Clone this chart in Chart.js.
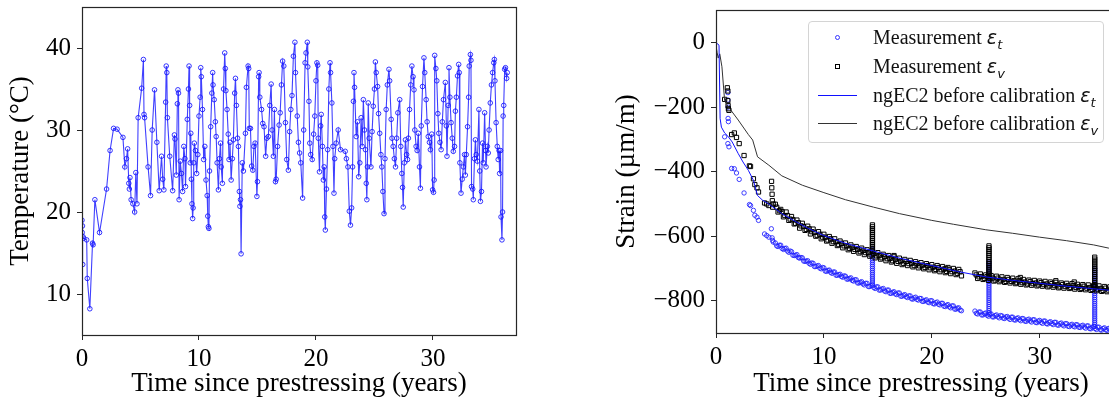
<!DOCTYPE html>
<html>
<head>
<meta charset="utf-8">
<script src="https://cdn.jsdelivr.net/npm/chart.js@4.4.1/dist/chart.umd.min.js"></script>
<style>
  html, body { margin: 0; padding: 0; background: #fff; overflow: hidden; width: 1109px; height: 406px; }
  #left { position: absolute; left: 0; top: 0; }
  #right { position: absolute; left: 560px; top: 0; }
  #legend {
    position: absolute; left: 808px; top: 21px; width: 294px; height: 120px;
    border: 1px solid #d4d4d4; border-radius: 4px; background: rgba(255,255,255,0.85);
    font-family: "Liberation Serif", serif; font-size: 20px; color: #111;
  }
  .row { position: absolute; left: 0; width: 100%; height: 29px; line-height: 29px; }
  .lbl { position: absolute; left: 64px; top: 0; white-space: nowrap; }
  .eps { font-family: "DejaVu Sans", sans-serif; font-style: italic; font-size: 19px; }
  .sub { font-family: "DejaVu Sans", sans-serif; font-style: italic; font-size: 13px; position: relative; top: 5px; }
  .dot { position: absolute; left: 26px; top: 12px; width: 3px; height: 3px; border: 1px solid #3333ff; border-radius: 50%; }
  .sq { position: absolute; left: 26px; top: 12px; width: 3px; height: 3px; border: 1px solid #000; }
  .ln { position: absolute; left: 9px; top: 14px; width: 39px; height: 1px; }
</style>
</head>
<body>
<canvas id="left" width="530" height="406"></canvas>
<canvas id="right" width="580" height="406"></canvas>
<div id="legend"></div>
<script>
// ---- left panel: temperature ----
const tempTime = [
  0, 0.02, 0.04, 0.06, 0.08, 0.15, 0.4, 0.45, 0.67, 0.9, 0.95, 1.1, 1.5, 2.1, 2.4, 2.7, 3.0, 3.5, 3.66, 3.8,
  3.9, 4.0, 4.05, 4.1, 4.2, 4.35, 4.5, 4.6, 4.7, 4.8, 5.1, 5.25, 5.3, 5.35, 5.65, 5.86, 6.0, 6.2, 6.4, 6.6,
  6.8, 6.9, 7.0, 7.15, 7.2, 7.25, 7.3, 7.5, 7.75, 7.9, 7.95, 8.06, 8.15, 8.2, 8.25, 8.3, 8.4, 8.5, 8.6, 8.7,
  8.8, 8.85, 9.0, 9.1, 9.15, 9.2, 9.25, 9.3, 9.35, 9.4, 9.46, 9.5, 9.55, 9.6, 9.7, 9.8, 9.9, 10.0, 10.1, 10.15,
  10.2, 10.3, 10.4, 10.5, 10.6, 10.7, 10.75, 10.8, 10.85, 10.9, 11.0, 11.1, 11.17, 11.2, 11.3, 11.4, 11.47, 11.55, 11.66, 11.75,
  11.84, 11.9, 12.0, 12.1, 12.2, 12.25, 12.3, 12.4, 12.5, 12.57, 12.65, 12.75, 12.85, 12.94, 13.05, 13.12, 13.2, 13.3, 13.37, 13.45,
  13.5, 13.55, 13.6, 13.7, 13.8, 13.97, 14.05, 14.2, 14.25, 14.3, 14.4, 14.5, 14.6, 14.7, 14.8, 14.95, 15.0, 15.1, 15.14, 15.2,
  15.35, 15.45, 15.56, 15.7, 15.8, 15.93, 16.05, 16.17, 16.25, 16.36, 16.45, 16.54, 16.6, 16.72, 16.85, 16.94, 17.05, 17.15, 17.25, 17.39,
  17.5, 17.64, 17.75, 17.85, 17.95, 18.07, 18.2, 18.25, 18.4, 18.5, 18.6, 18.7, 18.86, 18.95, 19.07, 19.15, 19.26, 19.3, 19.4, 19.47,
  19.55, 19.68, 19.8, 19.9, 20.0, 20.08, 20.15, 20.2, 20.3, 20.4, 20.45, 20.55, 20.63, 20.7, 20.75, 20.8, 20.9, 21.0, 21.1, 21.2,
  21.25, 21.36, 21.45, 21.54, 21.6, 21.73, 21.9, 22.1, 22.5, 22.6, 22.73, 22.85, 22.95, 23.05, 23.13, 23.2, 23.25, 23.3, 23.44, 23.55,
  23.65, 23.75, 23.86, 23.95, 24.05, 24.15, 24.23, 24.3, 24.35, 24.4, 24.47, 24.55, 24.7, 24.8, 24.9, 25.0, 25.08, 25.15, 25.27, 25.35,
  25.45, 25.55, 25.63, 25.72, 25.82, 25.9, 26.0, 26.1, 26.24, 26.3, 26.43, 26.5, 26.6, 26.7, 26.8, 26.9, 27.0, 27.16, 27.25, 27.34,
  27.4, 27.46, 27.55, 27.65, 27.75, 27.83, 27.9, 28.0, 28.1, 28.2, 28.3, 28.38, 28.45, 28.56, 28.65, 28.75, 28.85, 28.93, 29.0, 29.11,
  29.23, 29.3, 29.42, 29.5, 29.6, 29.7, 29.78, 29.9, 29.97, 30.05, 30.1, 30.15, 30.25, 30.33, 30.42, 30.5, 30.6, 30.7, 30.8, 30.9,
  31.06, 31.15, 31.2, 31.3, 31.37, 31.45, 31.55, 31.65, 31.74, 31.85, 31.92, 32.0, 32.1, 32.2, 32.25, 32.3, 32.4, 32.5, 32.6, 32.7,
  32.77, 32.85, 32.96, 33.05, 33.1, 33.2, 33.25, 33.3, 33.4, 33.45, 33.55, 33.63, 33.7, 33.8, 33.93, 34.0, 34.06, 34.15, 34.24, 34.3,
  34.42, 34.5, 34.54, 34.65, 34.73, 34.8, 34.9, 35.0, 35.1, 35.2, 35.25, 35.3, 35.4, 35.5, 35.58, 35.65, 35.7, 35.78, 35.82, 35.9,
  35.95, 36.0, 36.05, 36.13, 36.2, 36.3, 36.35
];
const tempVal = [
  19.0, 17.5, 18.3, 13.6, 17.0, 16.8, 16.6, 11.9, 8.2, 16.2, 16.0, 21.5, 17.5, 22.8, 27.5, 30.2, 30.1, 29.1, 25.5, 26.5,
  27.7, 23.5, 22.8, 24.2, 21.5, 21.0, 20.0, 24.8, 21.0, 31.5, 35.1, 38.6, 31.9, 31.5, 25.5, 22.0, 30.0, 34.9, 28.5, 22.6,
  26.8, 24.0, 22.7, 33.4, 37.8, 37.0, 31.5, 26.8, 22.6, 29.4, 28.9, 24.5, 33.2, 34.9, 34.5, 21.5, 26.2, 24.7, 22.5, 28.0,
  26.5, 23.1, 31.3, 35.0, 37.8, 33.0, 26.0, 29.6, 24.0, 21.0, 19.2, 20.5, 26.0, 28.4, 27.5, 24.7, 27.0, 31.7, 34.0, 37.6,
  36.5, 32.5, 26.4, 28.0, 23.9, 22.0, 19.5, 18.2, 18.0, 25.0, 30.4, 34.5, 37.0, 35.5, 33.7, 31.0, 29.2, 26.0, 22.7, 26.5,
  28.4, 25.5, 23.5, 35.0, 39.4, 37.5, 34.8, 32.5, 29.5, 26.4, 28.5, 23.9, 26.5, 28.8, 34.5, 36.3, 33.0, 29.0, 28.0, 22.5,
  20.7, 21.5, 14.9, 26.0, 25.0, 29.6, 35.2, 37.8, 37.5, 30.2, 30.2, 25.6, 25.1, 28.0, 28.4, 21.9, 23.7, 36.5, 37.0, 34.0,
  32.5, 30.8, 30.4, 26.8, 29.0, 29.2, 33.0, 35.6, 30.0, 26.8, 32.5, 23.7, 24.0, 28.0, 30.6, 32.1, 35.5, 38.4, 37.8, 30.9,
  26.4, 25.1, 29.8, 32.5, 34.2, 39.0, 40.7, 37.0, 31.7, 28.5, 27.2, 26.0, 21.7, 30.0, 38.2, 39.4, 40.7, 37.7, 33.5, 28.4,
  27.0, 26.4, 29.5, 31.7, 36.0, 38.2, 37.9, 29.0, 24.9, 30.5, 31.9, 28.0, 23.9, 25.5, 19.4, 17.8, 22.8, 27.6, 35.0, 38.2,
  37.0, 33.3, 28.0, 22.3, 26.5, 28.4, 30.0, 27.6, 27.4, 26.5, 25.5, 20.1, 18.4, 20.5, 25.5, 33.5, 37.0, 35.2, 29.2, 31.0,
  24.3, 26.0, 31.5, 28.0, 33.7, 30.0, 27.6, 23.5, 21.5, 25.5, 33.3, 29.0, 25.5, 29.8, 32.9, 35.0, 38.3, 37.0, 35.3, 32.0,
  29.6, 27.0, 25.5, 22.5, 19.8, 26.5, 32.5, 35.5, 37.4, 36.0, 31.3, 29.0, 28.0, 26.5, 25.5, 29.0, 32.1, 33.7, 28.0, 24.7,
  23.0, 20.6, 26.0, 28.8, 27.0, 26.4, 29.0, 32.5, 35.5, 37.8, 36.5, 34.9, 30.0, 28.0, 27.5, 29.6, 25.5, 22.9, 30.5, 35.3,
  38.8, 37.0, 33.7, 31.0, 29.2, 28.5, 27.6, 29.5, 22.7, 22.4, 23.9, 39.1, 37.5, 36.0, 32.0, 29.6, 28.5, 27.6, 31.0, 33.7,
  35.8, 30.5, 26.8, 33.0, 37.6, 34.0, 30.9, 29.0, 27.4, 28.0, 32.3, 34.0, 36.6, 38.0, 37.0, 26.0, 22.3, 24.0, 25.5, 27.0,
  24.5, 27.0, 30.4, 34.0, 37.8, 39.2, 38.5, 23.1, 22.8, 21.5, 26.5, 28.8, 27.0, 26.2, 32.5, 25.0, 21.3, 22.5, 28.4, 26.0,
  32.1, 27.5, 25.5, 28.0, 27.2, 30.0, 33.3, 35.5, 37.0, 38.2, 38.6, 36.0, 30.9, 28.0, 26.4, 27.5, 24.7, 27.5, 19.4, 16.6,
  20.0, 31.7, 33.0, 37.4, 37.6, 36.3, 37.0
];
const tempTicks = [10, 20, 30, 40];
const timeTicks = [0, 10, 20, 30];

// ---- right panel: strain ----
// readings on a quarter-year grid (gap between 22.75 and 24)
const measTime = [
  5.5, 5.75, 6.0, 6.25, 6.5, 6.75, 7.0, 7.25, 7.5, 7.75, 8.0, 8.25, 8.5, 8.75, 9.0, 9.25, 9.5, 9.75, 10.0, 10.25,
  10.5, 10.75, 11.0, 11.25, 11.5, 11.75, 12.0, 12.25, 12.5, 12.75, 13.0, 13.25, 13.5, 13.75, 14.0, 14.25, 14.5, 14.75, 15.0, 15.25,
  15.5, 15.75, 16.0, 16.25, 16.5, 16.75, 17.0, 17.25, 17.5, 17.75, 18.0, 18.25, 18.5, 18.75, 19.0, 19.25, 19.5, 19.75, 20.0, 20.25,
  20.5, 20.75, 21.0, 21.25, 21.5, 21.75, 22.0, 22.25, 22.5, 22.75,
  24.0, 24.25, 24.5, 24.75, 25.0, 25.25, 25.5, 25.75, 26.0, 26.25, 26.5, 26.75, 27.0, 27.25, 27.5, 27.75, 28.0, 28.25, 28.5, 28.75,
  29.0, 29.25, 29.5, 29.75, 30.0, 30.25, 30.5, 30.75, 31.0, 31.25, 31.5, 31.75, 32.0, 32.25, 32.5, 32.75, 33.0, 33.25, 33.5, 33.75,
  34.0, 34.25, 34.5, 34.75, 35.0, 35.25, 35.5, 35.75, 36.0, 36.25, 36.5, 36.75, 37.0, 37.25, 37.5, 37.75
];
const measTime2 = [
  5.625, 5.875, 6.125, 6.375, 6.625, 6.875, 7.125, 7.375, 7.625, 7.875, 8.125, 8.375, 8.625, 8.875, 9.125, 9.375, 9.625, 9.875, 10.125, 10.375,
  10.625, 10.875, 11.125, 11.375, 11.625, 11.875, 12.125, 12.375, 12.625, 12.875, 13.125, 13.375, 13.625, 13.875, 14.125, 14.375, 14.625, 14.875, 15.125, 15.375,
  15.625, 15.875, 16.125, 16.375, 16.625, 16.875, 17.125, 17.375, 17.625, 17.875, 18.125, 18.375, 18.625, 18.875, 19.125, 19.375, 19.625, 19.875, 20.125, 20.375,
  20.625, 20.875, 21.125, 21.375, 21.625, 21.875, 22.125, 22.375, 22.625,
  24.125, 24.375, 24.625, 24.875, 25.125, 25.375, 25.625, 25.875, 26.125, 26.375, 26.625, 26.875, 27.125, 27.375, 27.625, 27.875, 28.125, 28.375, 28.625, 28.875,
  29.125, 29.375, 29.625, 29.875, 30.125, 30.375, 30.625, 30.875, 31.125, 31.375, 31.625, 31.875, 32.125, 32.375, 32.625, 32.875, 33.125, 33.375, 33.625, 33.875,
  34.125, 34.375, 34.625, 34.875, 35.125, 35.375, 35.625, 35.875, 36.125, 36.375, 36.625, 36.875, 37.125, 37.375, 37.625
];
const measEtVal = [
  -621, -632, -628, -641, -637, -650, -648, -660, -657, -668, -667, -678, -676, -687, -684, -694, -691, -701, -698, -709,
  -705, -715, -711, -721, -718, -727, -724, -733, -729, -739, -735, -745, -741, -751, -746, -756, -752, -762, -757, -767,
  -762, -772, -767, -777, -772, -781, -776, -786, -781, -790, -785, -795, -789, -798, -793, -802, -797, -806, -800, -810,
  -804, -813, -808, -818, -812, -822, -816, -826, -822, -831,
  -832, -841, -835, -844, -838, -848, -841, -850, -844, -853, -847, -855, -849, -858, -851, -860, -853, -862, -856, -864,
  -857, -866, -859, -868, -861, -870, -863, -872, -865, -874, -867, -876, -869, -878, -871, -880, -873, -881, -875, -883,
  -876, -885, -878, -887, -880, -889, -882, -891, -884, -892, -886, -894, -888, -895, -890, -897
];
const measEtVal2 = [
  -630, -628, -638, -638, -646, -646, -659, -659, -666, -666, -677, -677, -684, -683, -694, -692, -699, -697, -708, -706,
  -712, -711, -721, -719, -725, -723, -733, -731, -737, -735, -745, -743, -748, -746, -756, -753, -759, -757, -767, -764,
  -770, -767, -777, -774, -779, -776, -786, -783, -788, -785, -794, -791, -796, -793, -802, -799, -804, -800, -809, -806,
  -811, -808, -817, -814, -819, -816, -826, -823, -829,
  -839, -835, -844, -840, -845, -841, -850, -846, -850, -846, -854, -850, -854, -851, -859, -855, -859, -855, -863, -859,
  -863, -859, -867, -863, -867, -863, -871, -867, -871, -867, -875, -871, -875, -871, -879, -875, -879, -874, -882, -878,
  -882, -878, -886, -882, -886, -882, -890, -886, -890, -886, -894, -890, -893, -889, -897
];
const measEvVal = [
  -501, -525, -517, -540, -525, -551, -539, -562, -550, -575, -560, -582, -569, -593, -578, -600, -586, -608, -594, -615,
  -601, -622, -608, -629, -615, -636, -621, -642, -627, -647, -632, -652, -637, -657, -642, -662, -647, -667, -651, -671,
  -656, -676, -660, -680, -664, -684, -668, -688, -672, -691, -675, -695, -679, -698, -682, -701, -685, -704, -688, -707,
  -691, -710, -694, -713, -697, -716, -700, -719, -703, -723,
  -714, -731, -717, -734, -720, -737, -722, -739, -724, -741, -726, -743, -728, -745, -730, -747, -732, -749, -734, -751,
  -736, -752, -737, -754, -739, -755, -740, -757, -742, -758, -743, -760, -745, -761, -746, -762, -747, -764, -749, -765,
  -750, -766, -751, -768, -753, -769, -754, -771, -756, -772, -757, -774, -759, -775, -760, -777
];
const measEvVal2 = [
  -510, -521, -524, -536, -536, -547, -549, -560, -558, -568, -570, -579, -577, -586, -588, -597, -594, -603, -603, -612,
  -608, -617, -617, -626, -622, -630, -630, -638, -634, -641, -641, -648, -644, -651, -651, -658, -654, -661, -660, -667,
  -663, -670, -669, -676, -671, -678, -677, -684, -678, -685, -684, -691, -685, -692, -690, -697, -691, -698, -696, -703,
  -697, -704, -702, -709, -703, -710, -708, -715, -710,
  -720, -726, -725, -731, -725, -731, -730, -736, -730, -736, -734, -740, -734, -740, -738, -744, -738, -744, -742, -748,
  -741, -747, -745, -751, -744, -750, -748, -754, -747, -753, -751, -757, -750, -756, -753, -759, -753, -759, -756, -762,
  -755, -761, -759, -765, -758, -764, -762, -768, -761, -767, -765, -771, -764, -770, -768
];
// early readings and scattered outliers
const earlyEtTime = [0.8, 1.1, 1.1, 1.12, 1.12, 1.15, 1.1, 1.2, 1.45, 1.7, 1.9, 2.15, 2.6, 3.1, 3.2, 3.47, 3.6, 3.8, 3.94, 4.5, 4.7, 4.9, 5.13, 5.2, 5.25, 5.3];
const earlyEtVal = [-292, -155, -178, -200, -235, -245, -313, -323, -390, -391, -404, -424, -466, -502, -505, -520, -535, -541, -551, -593, -598, -603, -577, -605, -613, -618];
const earlyEvTime = [0.8, 1.05, 1.1, 1.1, 1.12, 1.15, 1.2, 1.45, 1.7, 1.9, 2.15, 2.6, 3.1, 3.2, 3.47, 3.6, 3.8, 3.94, 4.5, 4.7, 4.9, 5.15, 5.17, 5.2, 5.22, 5.25, 5.3, 16.5, 21.3, 28.2, 31.5, 33.2, 36.8];
const earlyEvVal = [-176, -140, -150, -180, -195, -205, -210, -285, -280, -294, -313, -350, -382, -384, -422, -440, -450, -463, -497, -500, -505, -430, -450, -470, -490, -510, -500, -660, -700, -728, -738, -742, -745];
// vertical runs of readings at three dates
const spikeTime = [14.5, 25.3, 35.1];
const spikeEtVal = [
  [-640, -646, -652, -658, -664, -670, -676, -682, -688, -694, -700, -706, -712, -718, -724, -730, -736, -742, -748],
  [-680, -686, -692, -698, -704, -710, -716, -722, -728, -734, -740, -746, -752, -758, -764, -770, -776, -782, -788, -794,
   -800, -806, -812, -818, -824, -830, -836, -842],
  [-700, -706, -712, -718, -724, -730, -736, -742, -748, -754, -760, -766, -772, -778, -784, -790, -796, -802, -808, -814,
   -820, -826, -832, -838, -844, -850, -856, -862, -868, -874, -880],
];
const spikeEvVal = [
  [-565, -571, -577, -583, -589, -595, -601, -607, -613, -619, -625, -631, -637, -643],
  [-630, -636, -642, -648, -654, -660, -666, -672, -678, -684, -690, -696, -702, -708, -714, -720, -726],
  [-665, -671, -677, -683, -689, -695, -701, -707, -713, -719, -725, -731, -737, -743, -749, -755],
];
const modelEtTime = [0, 0.28, 0.38, 0.5, 0.8, 1.1, 1.5, 2.06, 2.5, 3.0, 3.47, 3.85, 4.3, 4.88, 5.5, 6.1, 7.4, 8.5, 10, 12, 14.5, 17, 20, 22.5, 25, 27.5, 30, 32.5, 35, 37, 38];
const modelEtVal = [0, -8, -235, -262, -280, -290, -308, -344, -370, -396, -427, -474, -488, -500, -515, -530, -555, -575, -598, -622, -645, -668, -691, -710, -726, -737, -746, -755, -763, -769, -772];
const modelEvTime = [0, 0.1, 0.2, 0.35, 0.55, 0.8, 1.1, 2.06, 3.0, 3.4, 3.85, 4.9, 6.1, 8, 10, 12, 14.6, 17, 20, 22, 25, 27.5, 30, 32.5, 35, 36.4, 38];
const modelEvVal = [-10, -30, -48, -35, -75, -180, -197, -240, -285, -302, -354, -380, -413, -442, -465, -487, -510, -530, -551, -563, -580, -591, -603, -614, -627, -637, -646];
const strainTicks = [0, -200, -400, -600, -800];
const legendLabels = ["Measurement", "Measurement", "ngEC2 before calibration", "ngEC2 before calibration"];
const legendSubs = ["t", "v", "t", "v"];

// ---- common bits ----
Chart.defaults.font.family = '"Liberation Serif", "Times New Roman", serif';
Chart.defaults.color = "#000";
const axisColor = "#262626";

const pts = (xs, ys) => xs.map((x, i) => ({ x: x, y: ys[i] }));
const spikes = (vals) => spikeTime.flatMap((t, k) => vals[k].map((v) => ({ x: t, y: v })));
const setTicks = (list) => (scale) => { scale.ticks = list.map((v) => ({ value: v })); };
const minus = (v) => String(v).replace("-", "\u2212");

const frame = {
  id: "frame",
  afterDraw(chart) {
    const { ctx, chartArea: a } = chart;
    ctx.save();
    ctx.strokeStyle = axisColor;
    ctx.lineWidth = 1.2;
    ctx.strokeRect(Math.round(a.left) + 0.5, Math.round(a.top) + 0.5, Math.round(a.right - a.left), Math.round(a.bottom - a.top));
    ctx.restore();
  },
};

const axisX = (max, height, ticks) => ({
  type: "linear",
  min: 0,
  max: max,
  afterBuildTicks: setTicks(ticks),
  afterFit: (s) => { s.height = height; s.paddingLeft = 0; s.paddingRight = 0; },
  grid: { drawOnChartArea: false, tickLength: 5, tickColor: axisColor, tickWidth: 1 },
  border: { display: false },
  ticks: { font: { size: 25 }, padding: 4, maxRotation: 0, color: "#000" },
  title: { display: true, text: "Time since prestressing (years)", font: { size: 27 }, padding: { top: 0, bottom: 6 }, color: "#000" },
});

const axisY = (min, max, width, ticks, text) => ({
  type: "linear",
  min: min,
  max: max,
  afterBuildTicks: setTicks(ticks),
  afterFit: (s) => { s.width = width; s.paddingTop = 0; s.paddingBottom = 0; },
  grid: { drawOnChartArea: false, tickLength: 5, tickColor: axisColor, tickWidth: 1 },
  border: { display: false },
  ticks: { font: { size: 25 }, padding: 6, callback: minus, color: "#000" },
  title: { display: true, text: text, font: { size: 27 }, padding: { top: 5, bottom: 0 }, color: "#000" },
});

// left chart
new Chart("left", {
  type: "scatter",
  data: {
    datasets: [
      {
        data: pts(tempTime, tempVal),
        showLine: true,
        borderColor: "rgba(0,0,255,0.75)",
        borderWidth: 1.1,
        pointRadius: 2.3,
        pointBorderWidth: 1,
        pointBorderColor: "rgba(20,20,255,0.85)",
        pointBackgroundColor: "rgba(0,0,0,0)",
      },
    ],
  },
  options: {
    responsive: false,
    animation: false,
    events: [],
    layout: { padding: { left: 0, right: 14, top: 7, bottom: 0 } },
    plugins: { legend: { display: false }, tooltip: { enabled: false } },
    scales: {
      x: axisX(37.1, 71, timeTicks),
      y: axisY(5, 45, 82, tempTicks, "Temperature (°C)"),
    },
  },
  plugins: [frame],
});

// right chart
new Chart("right", {
  type: "scatter",
  data: {
    datasets: [
      {
        label: "ngEC2 εt",
        data: pts(modelEtTime, modelEtVal),
        showLine: true,
        borderColor: "#1010ff",
        borderWidth: 1,
        pointRadius: 0,
      },
      {
        label: "ngEC2 εv",
        data: pts(modelEvTime, modelEvVal),
        showLine: true,
        borderColor: "#333",
        borderWidth: 1,
        pointRadius: 0,
      },
      {
        label: "Measurement εv",
        data: [...pts(measTime, measEvVal), ...pts(measTime2, measEvVal2), ...pts(earlyEvTime, earlyEvVal), ...spikes(spikeEvVal)],
        pointStyle: "rect",
        pointRadius: 3,
        pointBorderWidth: 1,
        pointBorderColor: "#000",
        pointBackgroundColor: "rgba(0,0,0,0)",
      },
      {
        label: "Measurement εt",
        data: [...pts(measTime, measEtVal), ...pts(measTime2, measEtVal2), ...pts(earlyEtTime, earlyEtVal), ...spikes(spikeEtVal)],
        pointRadius: 2.2,
        pointBorderWidth: 1,
        pointBorderColor: "rgba(30,30,255,0.85)",
        pointBackgroundColor: "rgba(0,0,0,0)",
      },
    ],
  },
  options: {
    responsive: false,
    animation: false,
    events: [],
    layout: { padding: { left: 46, right: 14, top: 10, bottom: 0 } },
    plugins: { legend: { display: false }, tooltip: { enabled: false } },
    scales: {
      x: axisX(38, 73, timeTicks),
      y: axisY(-900, 101, 110, strainTicks, "Strain (µm/m)"),
    },
  },
  plugins: [frame],
});

// legend box (top right of the strain panel)
const markers = ['<span class="dot"></span>', '<span class="sq"></span>',
  '<span class="ln" style="background:#1010ff"></span>', '<span class="ln" style="background:#333"></span>'];
const rowTops = [1, 30, 59, 87];
document.getElementById("legend").innerHTML = legendLabels.map((txt, i) =>
  `<div class="row" style="top:${rowTops[i]}px">${markers[i]}<span class="lbl">${txt} <span class="eps">ε</span><span class="sub">${legendSubs[i]}</span></span></div>`
).join("");
</script>
</body>
</html>
